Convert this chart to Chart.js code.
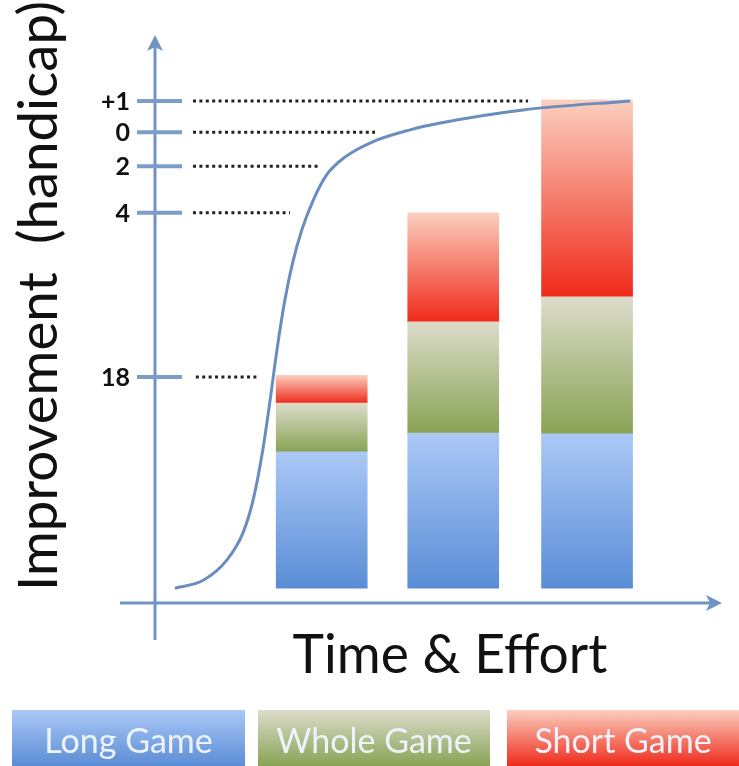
<!DOCTYPE html>
<html>
<head>
<meta charset="utf-8">
<script src="https://cdn.jsdelivr.net/npm/chart.js@4.4.1/dist/chart.umd.min.js"></script>
<style>
  html, body { margin: 0; padding: 0; background: #fff; }
  #wrap { width: 739px; height: 766px; position: relative; }
</style>
</head>
<body>
<div id="wrap"><canvas id="chart"></canvas></div>
<script>
// improvement scale runs 0..100 along the axis, effort 0..100 along the bottom
var categories = ['Long Game', 'Whole Game', 'Short Game'];
var barX = [29.4, 52.6, 76.2];
var barBase = [2.6, 2.6, 2.6];
var longTop = [26.6, 29.9, 29.8];
var wholeTop = [35.2, 49.5, 53.9];
var shortTop = [40.1, 68.7, 88.6];

var tickValues = [88.4, 82.9, 76.9, 68.7, 39.8];
var tickLabels = ['+1', '0', '2', '4', '18'];
var guideStart = [6.7, 6.7, 6.7, 6.7, 7.2];
var guideEnd = [65.8, 38.8, 28.8, 23.8, 18.2];

var curveX = [3.5, 8.5, 12.7, 15.5, 17.3, 19.0, 20.3, 21.5, 22.9, 24.3, 25.9, 27.9, 30.3, 33.5, 38.4, 45.0, 50.3, 64.9, 83.8];
var curveY = [2.6, 4.0, 7.6, 12.3, 18.1, 26.9, 35.7, 44.5, 53.3, 60.0, 65.7, 70.9, 75.4, 78.5, 81.2, 83.3, 84.5, 86.8, 88.4];

var colors = [
	['#abc8f6', '#5a8dd6'],
	['#dddccb', '#88a354'],
	['#fbcfbf', '#ef2a1a']
];

var axisColor = '#6f93c3';

function barGrad(top, bottom) {
	return function(c) {
		var chart = c.chart;
		if (!chart.chartArea || c.type !== 'data') return bottom;
		var y = chart.scales.y;
		var v = c.raw.y;
		var g = chart.ctx.createLinearGradient(0, y.getPixelForValue(v[1]), 0, y.getPixelForValue(v[0]));
		g.addColorStop(0, top);
		g.addColorStop(1, bottom);
		return g;
	};
}

function segment(lo, hi) {
	var out = [];
	for (var i = 0; i < barX.length; i++) {
		out.push({ x: barX[i], y: [lo[i], hi[i]] });
	}
	return out;
}

var curve = [];
for (var i = 0; i < curveX.length; i++) curve.push({ x: curveX[i], y: curveY[i] });

var lows = [barBase, longTop, wholeTop];
var highs = [longTop, wholeTop, shortTop];
var datasets = [];
for (var k = 0; k < categories.length; k++) {
	datasets.push({
		type: 'bar',
		label: categories[k],
		data: segment(lows[k], highs[k]),
		backgroundColor: barGrad(colors[k][0], colors[k][1]),
		borderWidth: 0,
		barThickness: 91,
		grouped: false,
		order: 2
	});
}
datasets.push({
	type: 'line',
	label: 'curve',
	data: curve,
	borderColor: '#6a8dbf',
	borderWidth: 3,
	pointRadius: 0,
	cubicInterpolationMode: 'monotone',
	fill: false,
	order: 0
});

function fitFont(ctx, text, weight, family, width) {
	ctx.font = weight + ' 100px ' + family;
	var w = ctx.measureText(text).width;
	return weight + ' ' + (100 * width / w).toFixed(1) + 'px ' + family;
}

var decor = {
	id: 'decor',
	beforeDatasetsDraw: function(chart) {
		var ctx = chart.ctx;
		var xs = chart.scales.x, ys = chart.scales.y;
		var a = chart.chartArea;
		ctx.save();

		// axes
		ctx.strokeStyle = axisColor;
		ctx.fillStyle = axisColor;
		ctx.lineWidth = 3;
		ctx.beginPath();
		ctx.moveTo(a.left, a.top + 6);
		ctx.lineTo(a.left, a.bottom + 37);
		ctx.moveTo(a.left - 35, a.bottom);
		ctx.lineTo(a.right - 6, a.bottom);
		ctx.stroke();
		ctx.beginPath();
		ctx.moveTo(a.left, a.top);
		ctx.lineTo(a.left - 8, a.top + 16);
		ctx.lineTo(a.left, a.top + 12);
		ctx.lineTo(a.left + 8, a.top + 16);
		ctx.closePath();
		ctx.fill();
		ctx.beginPath();
		ctx.moveTo(a.right, a.bottom);
		ctx.lineTo(a.right - 16, a.bottom - 8);
		ctx.lineTo(a.right - 12, a.bottom);
		ctx.lineTo(a.right - 16, a.bottom + 8);
		ctx.closePath();
		ctx.fill();

		// ticks, labels and dotted guides
		for (var i = 0; i < tickValues.length; i++) {
			var py = ys.getPixelForValue(tickValues[i]);
			ctx.strokeStyle = '#7c9dca';
			ctx.lineWidth = 4;
			ctx.setLineDash([]);
			ctx.beginPath();
			ctx.moveTo(a.left - 18, py);
			ctx.lineTo(a.left + 27, py);
			ctx.stroke();

			ctx.strokeStyle = '#222';
			ctx.lineWidth = 3;
			ctx.setLineDash([3, 3.4]);
			ctx.beginPath();
			ctx.moveTo(xs.getPixelForValue(guideStart[i]), py);
			ctx.lineTo(xs.getPixelForValue(guideEnd[i]), py);
			ctx.stroke();

			ctx.setLineDash([]);
			ctx.fillStyle = '#111';
			ctx.font = 'bold 25px Lato';
			ctx.textAlign = 'right';
			ctx.textBaseline = 'middle';
			ctx.fillText(tickLabels[i], a.left - 25, py + 1);
		}

		// axis titles
		ctx.fillStyle = '#111';
		ctx.textAlign = 'center';
		ctx.textBaseline = 'alphabetic';
		var t1 = 'Time & Effort';
		ctx.font = fitFont(ctx, t1, 'normal', 'Lato', 315);
		ctx.fillText(t1, 450, 673);

		var t2 = 'Improvement  (handicap)';
		ctx.save();
		ctx.translate(57, 296);
		ctx.rotate(-Math.PI / 2);
		ctx.font = fitFont(ctx, t2, 'normal', 'Lato', 590);
		ctx.fillText(t2, 0, 0);
		ctx.restore();

		// legend boxes
		var boxes = [[12, 245], [258, 490], [507, 739]];
		for (var k = 0; k < categories.length; k++) {
			var g = ctx.createLinearGradient(0, 710, 0, 766);
			g.addColorStop(0, colors[k][0]);
			g.addColorStop(1, colors[k][1]);
			ctx.fillStyle = g;
			ctx.fillRect(boxes[k][0], 710, boxes[k][1] - boxes[k][0], 56);
			ctx.fillStyle = '#eef3fb';
			ctx.font = '34px Lato';
			ctx.textAlign = 'center';
			ctx.fillText(categories[k], (boxes[k][0] + boxes[k][1]) / 2, 753);
		}
		ctx.restore();
	}
};

var ctx = document.getElementById('chart');
var chart = new Chart(ctx, {
	data: { datasets: datasets },
	options: {
		responsive: true,
		maintainAspectRatio: false,
		animation: false,
		layout: { padding: { left: 155, right: 17, top: 35, bottom: 163 } },
		plugins: { legend: { display: false }, tooltip: { enabled: false } },
		scales: {
			x: { type: 'linear', min: 0, max: 100, offset: false, display: false },
			y: { type: 'linear', min: 0, max: 100, display: false }
		}
	},
	plugins: [decor]
});
</script>
</body>
</html>
